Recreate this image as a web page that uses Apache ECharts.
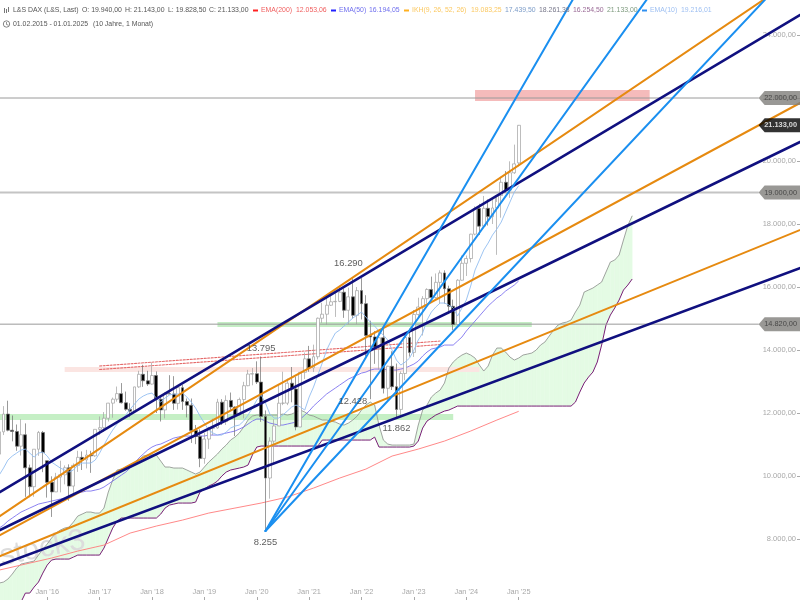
<!DOCTYPE html>
<html><head><meta charset="utf-8">
<style>html,body{margin:0;padding:0;background:#fff}#c{width:800px;height:600px}</style>
<script src="https://cdn.jsdelivr.net/npm/echarts@6/dist/echarts.min.js"></script>
</head><body><div id="c"></div>
<script>
// ---------- data ----------
const years = [15,16,17,18,19,20,21,22,23,24,25,26,27,28,29,30];
const months = ["Jan","Feb","Mar","Apr","May","Jun","Jul","Aug","Sep","Oct","Nov","Dec"];
const xTickLabels = ["Jan '16","Jan '17","Jan '18","Jan '19","Jan '20","Jan '21","Jan '22","Jan '23","Jan '24","Jan '25"];
const open = [10694,11402,11966,11454,11414,10945,11309,10259,9660,10850,11382,
10485,9798,9495,9965,10039,10262,9680,10337,10592,10511,10665,10640,
11481,11535,11834,12313,12438,12615,12325,12118,12055,12829,13229,13023,
12918,13189,12435,12097,12612,12605,12306,12805,12364,12247,11447,11257,
10559,11173,11516,11526,12344,11726,12399,12189,11939,12428,12867,13236,
13249,12981,11890,9936,11107,11587,12311,12313,12945,12761,11556,13291,
13719,13432,13786,15008,15136,15421,15531,15544,15835,15261,15688,15100,
15885,15471,14461,14415,14098,14388,12784,13484,12835,12114,13254,14397,
13924,15128,15365,15629,15922,15664,16148,16447,15947,15387,14810,16215,
16752,16904,17678,18492,17932,18498,18235,18508,18906,19324,19078,19626,19940];
const high = [11413,12219,12390,11920,11635,11802,11670,10360,10850,11430,11430,
10485,9990,10100,10486,10335,10370,10400,10800,10780,10830,10800,11480,
11890,12030,12320,12490,12840,12950,12680,12310,12830,13340,13530,13340,
13600,13320,12500,12660,13200,13170,12890,12890,12460,12460,11620,11480,
11370,11560,11820,12450,12440,12560,12650,12210,12490,12990,13370,13430,
13640,13795,12080,11230,11800,12910,13310,13090,13460,13150,13300,13920,
14130,14170,15030,15500,15730,15800,15810,16030,15950,15980,16290,16000,
16285,15740,14930,14600,14600,14750,13500,13960,13570,13320,14500,14680,
15270,15660,15710,15960,16330,16430,16530,16530,16040,15600,16250,17000,
17000,17690,18560,18640,18890,18780,18780,18700,19500,19680,19990,20520,21143];
const low = [10694,11300,11418,11100,10800,10650,9338,9325,9340,10640,10123,
9314,8700,9500,9480,9735,9215,9370,10130,10190,10240,10100,10610,
11300,11400,11730,11850,12360,12300,12070,11870,12000,12800,12830,12860,
12900,12000,11730,11830,12600,12100,12110,12100,11860,11050,11010,10280,
10390,10860,11300,11500,11620,11620,12100,11270,11920,11830,12850,12880,
12920,11720,8255,9280,10400,11600,12250,12250,12340,11450,11550,13080,
13310,13300,13700,14860,14800,15400,15050,15520,15020,14820,15000,14820,
14970,13800,12438,13560,13380,12620,12390,12730,11862,11865,13040,13790,
13780,15050,14460,15480,15630,15630,15460,15470,15140,14630,14790,16200,
16350,16780,17640,17650,17910,17950,18000,17020,18200,19000,18830,19590,19828];
const close = [11402,11966,11454,11414,10945,11309,10259,9660,10850,11382,10743,
9798,9495,9965,10039,10262,9680,10337,10592,10511,10665,10640,11481,
11535,11834,12313,12438,12615,12325,12118,12055,12829,13229,13023,12918,
13189,12435,12097,12612,12605,12306,12805,12364,12247,11447,11257,10559,
11173,11516,11526,12344,11726,12399,12189,11939,12428,12867,13236,13249,
12981,11890,9936,11107,11587,12311,12313,12945,12761,11556,13291,13719,
13432,13786,15008,15136,15421,15531,15544,15835,15261,15688,15100,15885,
15471,14461,14415,14098,14388,12784,13484,12835,12114,13254,14397,13924,
15128,15365,15629,15922,15664,16148,16447,15947,15387,14810,16215,16752,
16904,17678,18492,17932,18498,18235,18508,18906,19324,19078,19626,19909,21133];
const ema10 = [10030,10252,10506,10633,10728,10824,10855,10728,10601,10728,10760,10633,10442,10347,10252,10189,10125,10189,10347,10411,10411,10411,10506,10728,10982,11236,11458,11649,11776,11935,12125,12284,12443,12538,12602,12633,12474,12347,12474,12570,12602,12602,12633,12506,12347,12157,11903,11681,11458,11363,11300,11300,11395,11522,11585,11617,11744,11935,12157,12411,12570,12316,11966,11839,11839,11935,12062,12189,12252,12189,12093,12506,12824,13205,13586,13998,14284,14538,14633,14760,14887,15014,15110,15205,15046,14887,14760,14602,14475,14316,13998,13681,13522,13618,13744,13998,14316,14538,14951,15205,15364,15491,15491,15427,15332,15078,15332,15586,16030,16538,16856,17173,17395,17649,17840,18062,18379,18697,19014,19216];
const ema50 = [8347,8442,8569,8665,8760,8855,8918,8982,9045,9109,9141,9172,9204,9236,9268,9299,9363,9426,9458,9490,9522,9522,9553,9585,9649,9744,9839,9935,10030,10125,10252,10411,10569,10696,10824,10919,10982,11014,11077,11141,11204,11236,11268,11268,11268,11268,11268,11268,11300,11300,11300,11331,11363,11395,11427,11490,11554,11649,11744,11808,11808,11744,11681,11649,11617,11617,11649,11681,11712,11808,11935,12062,12220,12347,12474,12602,12697,12792,12887,12982,13078,13141,13205,13268,13300,13363,13395,13395,13395,13363,13363,13363,13395,13427,13490,13554,13649,13808,13935,14030,14062,14094,14157,14157,14157,14284,14411,14602,14760,14919,15078,15237,15396,15523,15650,15745,15872,15967,16062,16194];
const ema200Months = [0,6,12,18,24,30,36,42,48,54,60,66,72,78,84,90,96,102,108,114,119];
const ema200 = [7013,7204,7395,7617,7807,8188,8411,8601,8823,8982,9141,9331,9617,9935,10220,10633,10855,11109,11427,11776,12053];
const spanA = [6601,6633,6728,6887,7077,7204,7236,7268,7300,7490,7680,7839,8030,8188,8283,8347,8379,8537,8728,8791,8855,8855,8823,8823,8982,9490,9871,10189,10220,10252,10284,10347,10506,10633,10665,10665,10665,10474,10284,10284,10252,10252,10252,10189,10125,10062,10125,10284,10442,10569,10696,10855,10982,11141,11236,11363,11554,11776,11903,11935,11935,11935,11935,11935,11935,11966,11935,11966,12030,12093,12030,11935,11903,11839,11776,11776,11744,11712,11649,11617,11681,11776,11903,12093,12252,12347,12252,11617,11141,11014,10982,10982,10982,10982,10982,11014,11617,12093,12252,12506,12633,12728,12951,13427,13618,13744,13840,13903,13840,13744,13522,13332,13490,13840,14062,14062,13935,13776,13681,13744,13840,13871,13903,13998,14157,14252,14443,14633,14792,14856,14887,14951,15205,15427,15840,15903,15967,16062,16157,16475,16792,16856,17014,17490,17950,18261];
const spanB = [4791,5045,5268,5490,5681,5998,6283,6283,6474,6633,6918,7172,7331,7363,7363,7363,7363,7426,7490,7490,7490,7490,7490,7490,7712,8030,8347,8569,8665,8665,8665,8665,8665,8665,8665,8665,8665,8791,8982,9077,9109,9141,9141,9141,9141,9172,9490,9585,9680,9744,9839,9998,10125,10189,10220,10252,10284,10347,10665,10919,10951,10951,10951,10951,10951,10951,10951,10951,10951,10951,10951,10951,10951,10951,11141,11141,11141,11141,11141,11141,11141,11141,11141,11141,11141,11141,11236,10919,10919,10919,10919,10919,10919,10919,10919,10951,11109,11522,11744,11839,11935,11998,12062,12093,12157,12220,12220,12220,12220,12220,12220,12220,12220,12220,12220,12220,12220,12220,12220,12220,12220,12220,12220,12220,12220,12220,12220,12220,12220,12220,12220,12220,12347,12665,12951,13141,13300,13618,14157,14792,15110,15332,15586,15903,16062,16254];
const trendNavy = [[0,9474,185,24762],[0,8271,185,20707],[0,7163,185,16678]];
const trendOrange = [[0,8712,185,26048],[0,8112,185,21958],[0,7448,185,17897]];
const trendBlue = [[61,8255,132,25270],[61,8255,149,25254],[61,8255,176,25206]];
const dashedRed = [[23,13491,101,14284],[23,13379,101,14173]];
const zones = [[109,22254,149,21904,'#f5bbbb'],[50,14887,122,14729,'#c4edc4'],[15,13459,110,13300,'#fbe5e2'],[0,11966,104,11776,'#c5efc5']];
const levels = [[22000,'#9a9a9a',1],[19000,'#c4c4c4',2],[14820,'#9a9a9a',1]];
const priceTags = [[22000,'22.000,00','#807e7b','#333333'],[21133,'21.133,00','#000000','#ffffff'],[19000,'19.000,00','#807e7b','#333333'],[14820,'14.820,00','#807e7b','#333333']];
const notes = [[80,16760,'16.290'],[60,14060,'13.795'],[81,12360,'12.428'],[91,11500,'11.862'],[61,7900,'8.255']];

// ---------- build ----------
const cats = [];
years.forEach(y => months.forEach(m => cats.push(m + " '" + y)));
const categories = cats.slice(1, 187);
const font = '"Liberation Sans", Arial, sans-serif';
const seg = (arr, color, width, type, z) => arr.map(s => ({
  type:'line', data:[[s[0],s[1]],[s[2],s[3]]], symbol:'none', silent:true, clip:true, z:z,
  lineStyle:{color:color,width:width,type:type||'solid',cap:'round'}
}));
const fmt = v => v < 8000 ? '' : String(v).replace(/\B(?=(\d{3})+$)/g,'.') + ',00';

const cloudData = spanA.map((a,i)=>[i,a,spanB[i]]);
const series = [
 {type:'custom', z:1, clip:true, silent:true, encode:{x:0,y:[1,2]}, data:cloudData,
  renderItem:(p,api)=>{
    const i=api.value(0); if(i>=spanA.length-1) return;
    const pts=[api.coord([i,spanA[i]]),api.coord([i+1,spanA[i+1]]),api.coord([i+1,spanB[i+1]]),api.coord([i,spanB[i]])];
    return {type:'polygon',shape:{points:pts},style:{fill:'#e4fbe4',stroke:'#e4fbe4',lineWidth:.5}};
  }},
 {type:'line', z:2, data:spanA, symbol:'none', silent:true, lineStyle:{color:'#8d8d8d',width:.8},
  markArea:{silent:true,z:2,data:zones.map(s=>[{coord:[s[0],s[1]],itemStyle:{color:s[4]}},{coord:[s[2],s[3]]}])}},
 {type:'line', z:2, data:spanB, symbol:'none', silent:true, lineStyle:{color:'#7a1f78',width:1}},
 {type:'line', z:3, data:ema200Months.map((m,i)=>[m,ema200[i]]), symbol:'none', silent:true, lineStyle:{color:'#ff7b7b',width:.9}},
 {type:'line', z:3, data:ema50, symbol:'none', silent:true, lineStyle:{color:'#6f62ee',width:.8}},
 ...seg(dashedRed,'#e56a6a',1.1,[2,1.5],3),
 ...levels.map(l=>({type:'line',z:3,symbol:'none',silent:true,data:[[0,l[0]],[174,l[0]]],lineStyle:{color:l[1],width:l[2]}})),
 {type:'candlestick', z:4, silent:true, barWidth:3.4,
  data:open.map((o,i)=>[o,close[i],low[i],high[i]]),
  itemStyle:{color:'#ffffff',color0:'#000000',borderColor:'#a0a0a0',borderColor0:'#6e6e6e',borderWidth:.7}},
 {type:'line', z:5, data:ema10, symbol:'none', silent:true, lineStyle:{color:'#92bdf0',width:.9}},
 ...seg(trendOrange,'#e68a10',2,null,6),
 ...seg(trendNavy,'#10107f',2.6,null,7),
 ...seg(trendBlue,'#1a8ff0',2,null,8),
 {type:'scatter', z:9, silent:true, symbolSize:0, data:notes.map(n=>({value:[n[0],n[1]],label:{formatter:n[2]}})),
  label:{show:true,position:'inside',color:'#333',fontSize:9.4,fontFamily:font}},
 {type:'scatter', z:10, silent:true, clip:false,
  symbol:'path://M0 7L6 0L44 0L44 14L6 14Z', symbolSize:[44,14],
  data:priceTags.map(t=>({value:[179,t[0]],itemStyle:{color:t[2]},label:{formatter:t[1],color:t[3],fontWeight:t[2]==='#000000'?'bold':'normal'}})),
  label:{show:true,position:'inside',fontSize:7.4,fontFamily:font,offset:[0,0]}}
];

const H = (text,x,y,c)=>({type:'text',z:20,x,y,silent:true,style:{text,fill:c,font:'6.9px '+font,textVerticalAlign:'middle'}});
const sq = (x,y,c)=>({type:'rect',z:20,silent:true,shape:{x,y:y-1,width:5,height:2},style:{fill:c}});
const graphic = [
 {type:'text',z:1.5,silent:true,x:3,y:572,rotation:0.2,originX:0,originY:0,style:{text:'stock3',fill:'#dcdcdc',font:'30px '+font,textVerticalAlign:'bottom'}},
 {type:'rect',z:20,silent:true,shape:{x:4,y:8,width:1,height:5},style:{fill:'#777'}},
 {type:'rect',z:20,silent:true,shape:{x:6,y:9,width:1,height:4},style:{fill:'#777'}},
 {type:'rect',z:20,silent:true,shape:{x:8,y:7,width:1,height:5},style:{fill:'#777'}},
 {type:'circle',z:20,silent:true,shape:{cx:6.5,cy:24,r:3.2},style:{fill:'none',stroke:'#666',lineWidth:.8}},
 {type:'polyline',z:20,silent:true,shape:{points:[[6.5,22],[6.5,24.5],[8.5,25.2]]},style:{fill:'none',stroke:'#666',lineWidth:.7}},
 H('L&S DAX (L&S, Last)',13,10.5,'#555'),H('O: 19.940,00',82,10.5,'#555'),H('H: 21.143,00',125,10.5,'#555'),
 H('L: 19.828,50',168,10.5,'#555'),H('C: 21.133,00',209,10.5,'#555'),
 sq(253,10.5,'#ff2020'),H('EMA(200)',261,10.5,'#f06060'),H('12.053,06',296,10.5,'#f06060'),
 sq(331,10.5,'#2020ff'),H('EMA(50)',339,10.5,'#7070ee'),H('16.194,05',369,10.5,'#7070ee'),
 sq(404,10.5,'#ffb020'),H('IKH(9, 26, 52, 26)',412,10.5,'#fbc860'),H('19.083,25',471,10.5,'#fbc860'),
 H('17.439,50',505,10.5,'#7c9cc8'),H('18.261,38',539,10.5,'#77778a'),H('16.254,50',573,10.5,'#9a6a96'),H('21.133,00',607,10.5,'#7e9a7e'),
 sq(642,10.5,'#3090f0'),H('EMA(10)',650,10.5,'#9dbff2'),H('19.216,01',681,10.5,'#9dbff2'),
 H('01.02.2015 - 01.01.2025',13,24,'#555'),H('(10 Jahre, 1 Monat)',93,24,'#555')
];

const isTick = (i,v)=>xTickLabels.includes(v);
const chart = echarts.init(document.getElementById('c'),null,{renderer:'canvas'});
chart.setOption({
 animation:false, backgroundColor:'#ffffff', tooltip:{show:false}, legend:{show:false},
 grid:{left:-3,top:-28,width:812,height:630,containLabel:false,outerBoundsMode:'none'},
 xAxis:{type:'category',data:categories,boundaryGap:true,
  axisLine:{show:false},splitLine:{show:false},
  axisTick:{show:true,inside:true,length:5,alignWithLabel:true,interval:isTick,lineStyle:{color:'#aaa',width:1}},
  axisLabel:{show:true,inside:true,margin:7,interval:isTick,color:'#a8a8a8',fontSize:7.4,fontFamily:font}},
 yAxis:{type:'value',position:'right',offset:-9,min:6000,max:26000,interval:2000,scale:false,
  axisLine:{show:false},splitLine:{show:false},
  axisTick:{show:true,inside:true,length:3,lineStyle:{color:'#aaa'}},
  axisLabel:{show:true,inside:true,margin:4,color:'#a8a8a8',fontSize:7.5,fontFamily:font,formatter:fmt}},
 graphic:graphic,
 series:series
});
</script></body></html>
